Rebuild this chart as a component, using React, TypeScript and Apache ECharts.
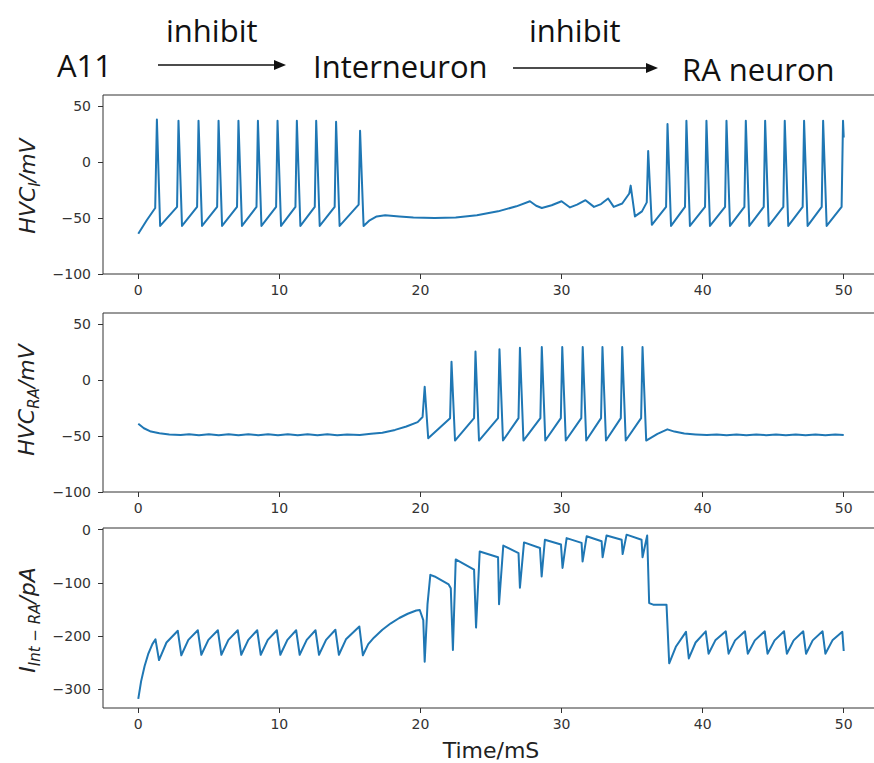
import { useEffect, useRef } from "react";
import * as echarts from "echarts";

// ---- tick values ----
const xTicks = [0, 10, 20, 30, 40, 50];
const vTicks = [-100, -50, 0, 50];
const iTicks = [-300, -200, -100, 0];

// ---- header texts ----
const headerWords = ["A11", "inhibit", "Interneuron", "inhibit", "RA neuron"];
const xAxisTitle = "Time/mS";

// ---- HVC_I membrane potential (t in ms, mV) ----
const hvcI: [number, number][] = [
  [0, -64], [0.6, -52], [1.2, -41], [1.32, 38], [1.55, -57],
  [2.75, -40], [2.85, 37], [3.1, -57],
  [4.17, -40], [4.27, 37], [4.52, -57],
  [5.59, -40], [5.69, 37], [5.94, -57],
  [7.0, -40], [7.1, 37], [7.35, -57],
  [8.38, -40], [8.48, 37], [8.73, -57],
  [9.77, -40], [9.87, 37], [10.12, -57],
  [11.14, -40], [11.24, 37], [11.49, -57],
  [12.51, -40], [12.61, 37], [12.86, -57],
  [13.92, -40], [14.02, 36], [14.27, -57],
  [15.62, -38], [15.72, 28], [15.97, -57],
  [16.4, -52], [16.9, -48.5], [17.5, -47.5], [18.5, -48.5], [19.5, -49.5],
  [21, -50], [22.5, -49.5], [24, -47.5], [25.5, -44], [26.8, -39.5],
  [27.76, -35], [28.2, -39], [28.6, -41], [29.3, -38.5], [30.0, -35],
  [30.6, -40.5], [31.1, -38], [31.7, -34], [32.3, -40], [32.8, -37.5],
  [33.3, -32.5], [33.7, -40], [34.3, -37], [34.8, -28], [34.9, -21],
  [35.2, -48.5], [35.7, -44], [36.04, -36], [36.14, 10], [36.4, -56],
  [37.41, -40], [37.51, 34], [37.76, -57],
  [38.75, -40], [38.85, 37], [39.1, -57],
  [40.17, -40], [40.27, 37], [40.52, -57],
  [41.59, -40], [41.69, 37], [41.94, -57],
  [42.96, -40], [43.06, 37], [43.31, -57],
  [44.33, -40], [44.43, 37], [44.68, -57],
  [45.72, -40], [45.82, 37], [46.07, -57],
  [47.09, -40], [47.19, 37], [47.44, -57],
  [48.44, -40], [48.54, 37], [48.79, -57],
  [49.85, -40], [49.95, 37], [50, 22],
];

// ---- HVC_RA membrane potential (t in ms, mV) ----
const hvcRA: [number, number][] = [
  [0, -39], [0.4, -43], [0.9, -46], [1.5, -47.5], [2.2, -48.5], [3, -49],
  [3.6, -48.3], [4.3, -49.2], [5, -48.4], [5.7, -49.3], [6.4, -48.4],
  [7.1, -49.3], [7.8, -48.4], [8.5, -49.3], [9.2, -48.4], [9.9, -49.3],
  [10.6, -48.4], [11.3, -49.3], [12, -48.4], [12.7, -49.3], [13.4, -48.4],
  [14.1, -49.3], [14.8, -48.6], [15.7, -49], [16.5, -48], [17.3, -47],
  [18.2, -44.5], [19.0, -41.5], [19.8, -37.5], [20.15, -33], [20.3, -6], [20.55, -52],
  [22.1, -34], [22.2, 16.5], [22.45, -54],
  [23.8, -34], [23.9, 25.5], [24.15, -54],
  [25.5, -34], [25.6, 27.5], [25.85, -54],
  [26.95, -34], [27.05, 29], [27.3, -54],
  [28.5, -34], [28.6, 29.5], [28.85, -54],
  [29.95, -34], [30.05, 29.5], [30.3, -54],
  [31.4, -34], [31.5, 29.5], [31.75, -54],
  [32.8, -34], [32.9, 29.5], [33.15, -54],
  [34.2, -34], [34.3, 29.5], [34.55, -54],
  [35.64, -34], [35.74, 29.5], [36.0, -54],
  [36.8, -48], [37.5, -44], [38.0, -46], [38.7, -47.8], [39.5, -48.5],
  [40.3, -49], [41, -48.5], [41.7, -49.2], [42.4, -48.5], [43.1, -49.2],
  [43.8, -48.5], [44.5, -49.2], [45.2, -48.5], [45.9, -49.2], [46.6, -48.5],
  [47.3, -49.2], [48, -48.5], [48.7, -49.2], [49.4, -48.6], [50, -49],
];

// ---- synaptic current Int -> RA (t in ms, pA) ----
const iIntRA: [number, number][] = [
  [0, -318], [0.2, -285], [0.45, -256], [0.7, -234], [1.0, -215], [1.22, -206], [1.47, -245],
  [2.0, -212], [2.8, -190], [3.05, -236],
  [3.55, -207], [4.22, -189], [4.47, -235],
  [4.97, -207], [5.64, -189], [5.89, -235],
  [6.39, -207], [7.05, -189], [7.3, -235],
  [7.8, -207], [8.43, -189], [8.68, -235],
  [9.18, -207], [9.82, -189], [10.07, -235],
  [10.57, -207], [11.19, -189], [11.44, -235],
  [11.94, -207], [12.56, -189], [12.81, -235],
  [13.31, -207], [13.97, -188], [14.22, -235],
  [14.72, -206], [15.67, -182], [15.92, -236],
  [16.3, -215], [16.7, -203], [17.3, -188], [17.9, -176], [18.5, -166],
  [19.1, -158], [19.7, -152], [19.95, -151], [20.2, -170], [20.3, -248],
  [20.5, -140], [20.7, -85], [21.0, -88], [22.0, -103], [22.15, -110], [22.3, -226],
  [22.5, -56], [23.8, -75], [23.94, -184],
  [24.2, -41], [25.5, -52], [25.57, -140],
  [25.87, -30], [26.95, -44], [27.05, -109],
  [27.34, -24], [28.47, -34.5], [28.59, -88],
  [28.82, -19], [29.96, -28], [30.07, -72],
  [30.36, -16], [31.42, -25], [31.49, -60],
  [31.78, -12.6], [32.84, -22], [32.91, -52],
  [33.19, -11], [34.26, -19], [34.33, -46],
  [34.61, -9.5], [35.67, -19], [35.74, -52],
  [36.07, -11], [36.21, -138], [36.5, -141], [37.44, -141], [37.63, -251],
  [38.1, -220], [38.82, -192], [39.02, -242],
  [39.5, -212], [40.22, -191], [40.42, -233],
  [40.9, -208], [41.64, -191], [41.84, -233],
  [42.3, -208], [43.0, -191], [43.2, -233],
  [43.7, -208], [44.4, -191], [44.6, -233],
  [45.1, -208], [45.77, -191], [45.97, -233],
  [46.45, -208], [47.13, -191], [47.33, -233],
  [47.8, -208], [48.5, -191], [48.7, -233],
  [49.2, -208], [49.9, -192], [50, -228],
];

const LINE = "#1f77b4";
const AXIS = "#333";
const TICKFONT = "DejaVu Sans";

const minus = (v: number) => String(v).replace("-", "\u2212");

function mkX(i: number) {
  return {
    type: "value" as const,
    gridIndex: i,
    min: -2.5,
    max: 52.5,
    axisLine: { show: false, onZero: false },
    splitLine: { show: false },
    axisTick: { show: true, length: 5, lineStyle: { color: AXIS, width: 1 }, customValues: xTicks },
    axisLabel: {
      show: true,
      customValues: xTicks,
      margin: 9,
      fontSize: 14,
      fontFamily: TICKFONT,
      color: AXIS,
      formatter: minus,
    },
  };
}

function mkY(i: number, min: number, max: number, ticks: number[]) {
  return {
    type: "value" as const,
    gridIndex: i,
    min,
    max,
    axisLine: { show: false, onZero: false },
    splitLine: { show: false },
    axisTick: { show: true, length: 5, lineStyle: { color: AXIS, width: 1 }, customValues: ticks },
    axisLabel: {
      show: true,
      customValues: ticks,
      margin: 12,
      fontSize: 14,
      fontFamily: TICKFONT,
      color: AXIS,
      formatter: minus,
    },
  };
}

const labelRich = {
  b: { fontSize: 22, fontStyle: "italic", fontFamily: "DejaVu Sans", lineHeight: 30, verticalAlign: "middle", fill: "#222" },
  s: { fontSize: 15, fontStyle: "italic", fontFamily: "DejaVu Sans", lineHeight: 16, verticalAlign: "bottom", fill: "#222" },
};

export default function App() {
  const ref = useRef<HTMLDivElement>(null);
  useEffect(() => {
    const chart = echarts.init(ref.current!, null, { renderer: "svg" });
    const grids = [
      { top: 95, height: 179 },
      { top: 313, height: 179 },
      { top: 528, height: 180 },
    ].map((g) => ({
      left: 103,
      width: 776,
      top: g.top,
      height: g.height,
      show: true,
      borderColor: AXIS,
      borderWidth: 1,
      backgroundColor: "transparent",
      containLabel: false,
    }));

    const headerFont = { fontSize: 31, fontFamily: "Open Sans", fill: "#111" };
    const hdr = (text: string, x: number, baseline: number) => ({
      type: "text",
      x,
      y: baseline - 9,
      style: { ...headerFont, text, align: "left", verticalAlign: "middle" },
    });
    const arrow = (x1: number, x2: number, y: number) => [
      { type: "line", shape: { x1, y1: y, x2: x2 - 10, y2: y }, style: { stroke: "#111", lineWidth: 1.6 } },
      {
        type: "polygon",
        shape: { points: [[x2 - 12, y - 5], [x2, y], [x2 - 12, y + 5]] },
        style: { fill: "#111" },
      },
    ];
    const yLabel = (text: string, x: number, y: number) => ({
      type: "text",
      x,
      y,
      rotation: Math.PI / 2,
      style: { text, rich: labelRich, align: "center", verticalAlign: "middle" },
    });

    chart.setOption({
      animation: false,
      backgroundColor: "#fff",
      grid: grids,
      xAxis: [mkX(0), mkX(1), mkX(2)],
      yAxis: [mkY(0, -100, 60, vTicks), mkY(1, -100, 60, vTicks), mkY(2, -335, 3, iTicks)],
      series: [hvcI, hvcRA, iIntRA].map((d, i) => ({
        type: "line",
        xAxisIndex: i,
        yAxisIndex: i,
        data: d,
        showSymbol: false,
        symbol: "none",
        clip: true,
        lineStyle: { color: LINE, width: 2, join: "round" },
        itemStyle: { color: LINE },
      })),
      graphic: [
        hdr(headerWords[0], 57, 74),
        hdr(headerWords[1], 166, 39),
        hdr(headerWords[2], 313, 75),
        hdr(headerWords[3], 529, 39),
        hdr(headerWords[4], 682, 78),
        ...arrow(158, 286, 65),
        ...arrow(513, 658, 68),
        yLabel("{b|HVC}{s|I}{b|/mV}", 27, 186),
        yLabel("{b|HVC}{s|RA}{b|/mV}", 26, 400),
        yLabel("{b|I}{s|Int \u2212 RA}{b|/pA}", 27, 620),
        {
          type: "text",
          x: 491,
          y: 750,
          style: {
            text: xAxisTitle,
            fontSize: 22,
            fontFamily: "DejaVu Sans",
            fill: "#222",
            align: "center",
            verticalAlign: "middle",
          },
        },
      ],
    });
    return () => chart.dispose();
  }, []);
  return (
    <div
      style={{
        position: "fixed",
        left: 0,
        top: 0,
        width: 874,
        height: 763,
        overflow: "hidden",
        background: "#fff",
      }}
    >
      <div ref={ref} style={{ width: 890, height: 763 }} />
    </div>
  );
}
